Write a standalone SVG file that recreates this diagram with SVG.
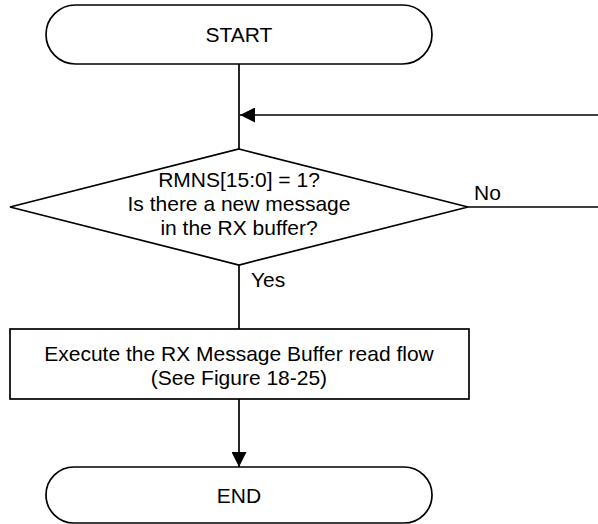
<svg xmlns="http://www.w3.org/2000/svg" width="598" height="524" viewBox="0 0 598 524">
<style>
.shape{fill:#fff;stroke:#000;stroke-width:1.7}
.conn{fill:none;stroke:#000;stroke-width:1.7}
text{font-family:"Liberation Sans",Arial,sans-serif;font-size:21px;fill:#000}
.c{text-anchor:middle}
</style>
<defs>
<marker id="arr" markerWidth="15" markerHeight="15" viewBox="0 0 15 15" refX="15" refY="7.5" orient="auto" markerUnits="userSpaceOnUse">
<path d="M0,0 L15,7.5 L0,15 Z" fill="#000"/>
</marker>
</defs>
<rect width="598" height="524" fill="#fff"/>
<g id="connectors">
<line class="conn" x1="239" y1="64" x2="239" y2="149"/>
<line class="conn" x1="598" y1="115" x2="240" y2="115" marker-end="url(#arr)"/>
<line class="conn" x1="468" y1="207" x2="598" y2="207"/>
<line class="conn" x1="239" y1="265" x2="239" y2="329"/>
<line class="conn" x1="239" y1="399" x2="239" y2="467" marker-end="url(#arr)"/>
<text x="474" y="200">No</text>
<text x="251" y="287">Yes</text>
</g>
<g id="start">
<rect class="shape" x="46" y="5" width="386" height="59" rx="29.5" ry="29.5"/>
<text class="c" x="239" y="42">START</text>
</g>
<g id="decision">
<polygon class="shape" points="239,149 468,207 239,265 10,207"/>
<text class="c" x="239" y="187">RMNS[15:0] = 1?</text>
<text class="c" x="239" y="211">Is there a new message</text>
<text class="c" x="239" y="235">in the RX buffer?</text>
</g>
<g id="process">
<rect class="shape" x="10" y="329" width="459" height="70"/>
<text class="c" x="239" y="361">Execute the RX Message Buffer read flow</text>
<text class="c" x="239" y="385">(See Figure 18-25)</text>
</g>
<g id="end">
<rect class="shape" x="46" y="467" width="386" height="56" rx="28" ry="28"/>
<text class="c" x="239" y="503">END</text>
</g>
</svg>
